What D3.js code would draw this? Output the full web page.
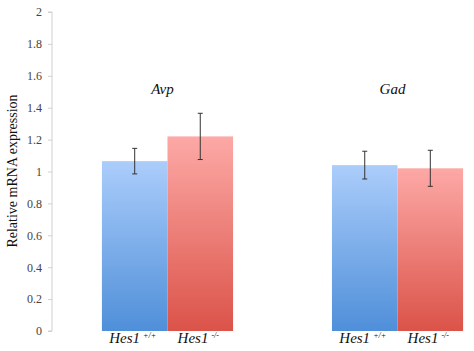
<!DOCTYPE html>
<html>
<head>
<meta charset="utf-8">
<script src="https://cdn.jsdelivr.net/npm/d3@7"></script>
</head>
<body style="margin:0; background:#fff">
<div id="chart-area"></div>
<script>
const genes = ["Avp", "Gad"];
const genotypes = ["+/+", "-/-"];
const wildType = [1.065, 1.04];
const wildTypeErr = [0.08, 0.087];
const knockOut = [1.22, 1.02];
const knockOutErr = [0.145, 0.113];
const yTicks = [0, 0.2, 0.4, 0.6, 0.8, 1, 1.2, 1.4, 1.6, 1.8, 2];

const width = 474;
const height = 351;
const serif = '"Times New Roman", "Liberation Serif", serif';

const data = [];
genes.forEach((g, i) => {
    data.push({ gene: g, type: "+/+", value: wildType[i], err: wildTypeErr[i] });
    data.push({ gene: g, type: "-/-", value: knockOut[i], err: knockOutErr[i] });
});

const svg = d3.select('#chart-area')
    .append('svg')
    .attr("width", width)
    .attr("height", height)
    .style('display', 'block');

const defs = svg.append('defs');
const grads = [
    { id: "gBlue", top: "#abcdfb", bottom: "#4f8fd9" },
    { id: "gRed", top: "#fda9a6", bottom: "#db5349" }
];
grads.forEach(gr => {
    const lg = defs.append('linearGradient')
        .attr('id', gr.id)
        .attr('x1', 0).attr('y1', 0).attr('x2', 0).attr('y2', 1);
    lg.append('stop').attr('offset', '0%').attr('stop-color', gr.top);
    lg.append('stop').attr('offset', '100%').attr('stop-color', gr.bottom);
});

const y = d3.scaleLinear()
    .domain([0, 2])
    .range([331, 12]);

const x0 = d3.scaleBand()
    .domain(genes)
    .range([52, 513])
    .paddingInner(0.43)
    .paddingOuter(0.217);

const x1 = d3.scaleBand()
    .domain(genotypes)
    .range([0, x0.bandwidth()]);

// y axis
const yAxis = d3.axisLeft(y)
    .tickValues(yTicks)
    .tickSize(4)
    .tickPadding(6)
    .tickFormat(d => d);
const ay = svg.append('g')
    .attr('transform', 'translate(52,0)')
    .call(yAxis);
ay.select('.domain').attr('stroke', '#cfcfcf').attr('d', 'M-4,12H0V331H-4');
ay.selectAll('.tick line').attr('stroke', '#cfcfcf');
ay.selectAll('.tick text')
    .style('font-family', serif)
    .style('font-size', '12px')
    .attr('fill', '#444');

// bars
svg.selectAll('rect.bar')
    .data(data)
    .enter()
    .append('rect')
    .attr('class', 'bar')
    .attr('x', d => x0(d.gene) + x1(d.type))
    .attr('y', d => y(d.value))
    .attr('width', x1.bandwidth())
    .attr('height', d => y(0) - y(d.value))
    .attr('fill', d => d.type === "+/+" ? "url(#gBlue)" : "url(#gRed)");

// error bars
const eb = svg.selectAll('g.err')
    .data(data)
    .enter()
    .append('g')
    .attr('class', 'err')
    .attr('stroke', '#333')
    .attr('stroke-width', 1);
const cx = d => x0(d.gene) + x1(d.type) + x1.bandwidth() / 2;
eb.append('line')
    .attr('x1', cx).attr('x2', cx)
    .attr('y1', d => y(d.value + d.err))
    .attr('y2', d => y(d.value - d.err));
eb.append('line')
    .attr('x1', d => cx(d) - 2.5).attr('x2', d => cx(d) + 2.5)
    .attr('y1', d => y(d.value + d.err))
    .attr('y2', d => y(d.value + d.err));
eb.append('line')
    .attr('x1', d => cx(d) - 2.5).attr('x2', d => cx(d) + 2.5)
    .attr('y1', d => y(d.value - d.err))
    .attr('y2', d => y(d.value - d.err));

// gene labels
svg.selectAll('text.gene')
    .data(genes)
    .enter()
    .append('text')
    .attr('class', 'gene')
    .attr('x', d => x0(d) + x0.bandwidth() / 2 - 5)
    .attr('y', 94)
    .attr('text-anchor', 'middle')
    .style('font-family', serif)
    .style('font-style', 'italic')
    .style('font-size', '15px')
    .attr('fill', '#111')
    .text(d => d);

// genotype labels
const gl = svg.selectAll('text.geno')
    .data(data)
    .enter()
    .append('text')
    .attr('class', 'geno')
    .attr('x', d => cx(d) - 2)
    .attr('y', 343)
    .attr('text-anchor', 'middle')
    .style('font-family', serif)
    .style('font-style', 'italic')
    .style('font-size', '15px')
    .attr('fill', '#111');
gl.append('tspan').text('Hes1');
gl.append('tspan')
    .attr('dx', 3)
    .attr('dy', -5)
    .style('font-size', '8px')
    .text(d => d.type);

// y label
svg.append('text')
    .attr('transform', 'translate(17,' + 171 + ') rotate(-90)')
    .attr('text-anchor', 'middle')
    .style('font-family', serif)
    .style('font-size', '14px')
    .attr('fill', '#111')
    .text('Relative mRNA expression');
</script>
</body>
</html>
